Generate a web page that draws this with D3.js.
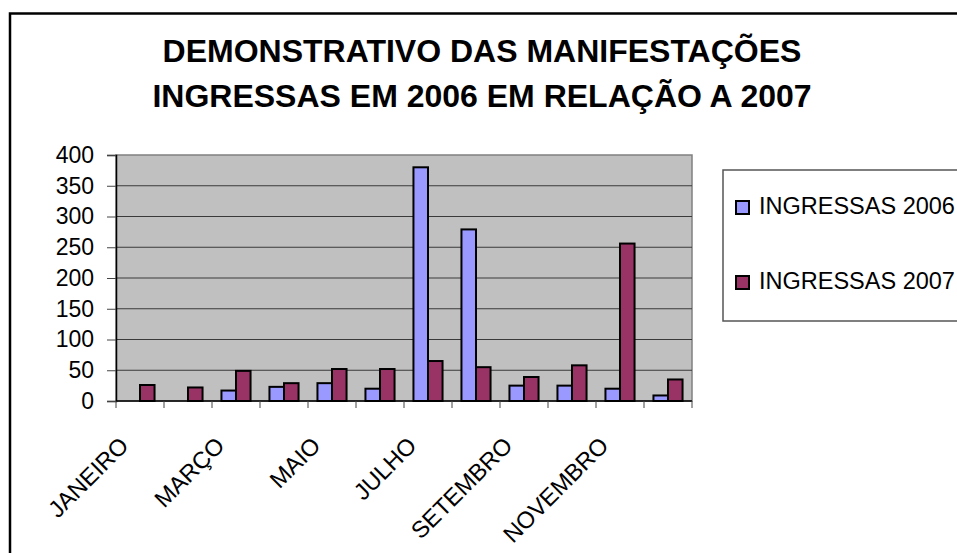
<!DOCTYPE html>
<html>
<head>
<meta charset="utf-8">
<script src="https://cdn.jsdelivr.net/npm/d3@7"></script>
<style>
  body { margin: 0; background: #fff; }
  text { font-family: "Liberation Sans", Arial, sans-serif; }
</style>
</head>
<body>
<div id="chart"></div>
<script>
// data
const months = ["JANEIRO", "FEVEREIRO", "MARÇO", "ABRIL", "MAIO", "JUNHO",
  "JULHO", "AGOSTO", "SETEMBRO", "OUTUBRO", "NOVEMBRO", "DEZEMBRO"];
const ingressas2006 = [null, null, 17, 23, 29, 20, 380, 279, 25, 25, 20, 9];
const ingressas2007 = [26, 22, 49, 29, 52, 52, 65, 55, 39, 58, 256, 35];
const seriesNames = ["INGRESSAS 2006", "INGRESSAS 2007"];
const seriesColors = ["#9999FF", "#993366"];
const yTicks = [0, 50, 100, 150, 200, 250, 300, 350, 400];
const titleLines = ["DEMONSTRATIVO DAS MANIFESTAÇÕES", "INGRESSAS EM 2006 EM RELAÇÃO A 2007"];

const W = 957, H = 553;
const plot = { left: 116, right: 692, top: 155, bottom: 401 };

const svg = d3.select("#chart")
  .append("svg")
  .attr("width", W)
  .attr("height", H);

// outer chart border (runs off the right and bottom)
svg.append("rect")
  .attr("x", 10).attr("y", 13.5)
  .attr("width", 1000).attr("height", 600)
  .attr("fill", "#fff")
  .attr("stroke", "#000")
  .attr("stroke-width", 2.5);

// title
svg.append("g")
  .selectAll("text")
  .data(titleLines)
  .join("text")
  .attr("x", 482)
  .attr("y", (d, i) => 62 + i * 45)
  .attr("text-anchor", "middle")
  .attr("font-weight", "bold")
  .attr("font-size", "32px")
  .text(d => d);

// scales
const x = d3.scaleBand().domain(months).range([plot.left, plot.right]);
const xs = d3.scaleBand().domain(seriesNames).range([0, x.bandwidth()]).paddingOuter(0.65);
const y = d3.scaleLinear().domain([0, 400]).range([plot.bottom, plot.top]);

// plot area
svg.append("rect")
  .attr("x", plot.left).attr("y", plot.top)
  .attr("width", plot.right - plot.left)
  .attr("height", plot.bottom - plot.top)
  .attr("fill", "#C0C0C0")
  .attr("stroke", "#808080")
  .attr("stroke-width", 1.5);

// gridlines
svg.append("g")
  .selectAll("line")
  .data(yTicks.filter(d => d > 0 && d < 400))
  .join("line")
  .attr("x1", plot.left).attr("x2", plot.right)
  .attr("y1", d => y(d)).attr("y2", d => y(d))
  .attr("stroke", "#3a3a3a")
  .attr("stroke-width", 1);

// bars
const series = [ingressas2006, ingressas2007];
series.forEach((vals, s) => {
  svg.append("g")
    .selectAll("rect")
    .data(months.map((m, i) => ({ m: m, v: vals[i] })).filter(d => d.v != null))
    .join("rect")
    .attr("x", d => x(d.m) + xs(seriesNames[s]))
    .attr("y", d => y(d.v))
    .attr("width", xs.bandwidth())
    .attr("height", d => y(0) - y(d.v))
    .attr("fill", seriesColors[s])
    .attr("stroke", "#000")
    .attr("stroke-width", 2);
});

// Y axis
const yAxis = svg.append("g")
  .attr("transform", "translate(" + plot.left + ",0)")
  .call(d3.axisLeft(y).tickValues(yTicks).tickSize(9).tickPadding(13));
yAxis.select(".domain").attr("stroke", "#000").attr("stroke-width", 1.5);
yAxis.selectAll(".tick line").attr("stroke", "#444");
yAxis.selectAll("text")
  .attr("font-size", "23px")
  .attr("font-family", "'Liberation Sans', Arial, sans-serif")
  .attr("fill", "#000");

// X axis: ticks on category boundaries, every other label
const xAxis = svg.append("g")
  .attr("transform", "translate(0," + plot.bottom + ")");
xAxis.append("line")
  .attr("x1", plot.left).attr("x2", plot.right)
  .attr("stroke", "#000").attr("stroke-width", 1.5);
xAxis.selectAll(".tk")
  .data(months.concat([null]))
  .join("line")
  .attr("class", "tk")
  .attr("x1", d => d ? x(d) : plot.right)
  .attr("x2", d => d ? x(d) : plot.right)
  .attr("y1", 0).attr("y2", 7)
  .attr("stroke", "#444");
xAxis.selectAll(".lbl")
  .data(months.filter((d, i) => i % 2 === 0))
  .join("text")
  .attr("class", "lbl")
  .attr("text-anchor", "end")
  .attr("font-size", "23.5px")
  .attr("transform", d => "translate(" + (x(d) + x.bandwidth() / 2 - 10) + ",46) rotate(-45)")
  .text(d => d);

// legend
const legend = svg.append("g");
legend.append("rect")
  .attr("x", 723).attr("y", 170)
  .attr("width", 300).attr("height", 151)
  .attr("fill", "#fff")
  .attr("stroke", "#555")
  .attr("stroke-width", 1.5);
const li = legend.selectAll(".li")
  .data(seriesNames)
  .join("g")
  .attr("class", "li")
  .attr("transform", (d, i) => "translate(0," + (i * 75) + ")");
li.append("rect")
  .attr("x", 736).attr("y", 201)
  .attr("width", 13).attr("height", 13)
  .attr("fill", (d, i) => seriesColors[i])
  .attr("stroke", "#000")
  .attr("stroke-width", 2);
li.append("text")
  .attr("x", 759).attr("y", 214)
  .attr("font-size", "23.5px")
  .text(d => d);
</script>
</body>
</html>
